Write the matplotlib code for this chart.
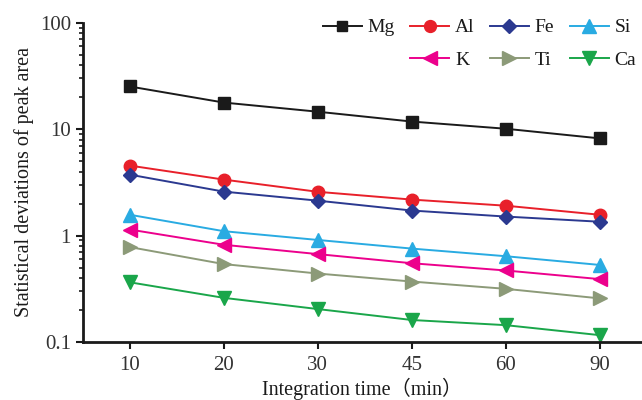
import matplotlib
matplotlib.use("Agg")
import matplotlib.pyplot as plt
from matplotlib.lines import Line2D
from matplotlib.ticker import LogLocator, NullFormatter

plt.rcParams['font.family'] = ['Liberation Serif', 'Noto Sans CJK SC']

times = ['10', '20', '30', '45', '60', '90']
Mg = [25.2, 17.8, 14.6, 11.8, 10.1, 8.2]
Al = [4.55, 3.36, 2.58, 2.18, 1.91, 1.57]
Fe = [3.74, 2.59, 2.13, 1.72, 1.51, 1.35]
Si = [1.57, 1.10, 0.91, 0.755, 0.64, 0.53]
K = [1.14, 0.82, 0.67, 0.55, 0.47, 0.39]
Ti = [0.78, 0.54, 0.44, 0.37, 0.316, 0.257]
Ca = [0.364, 0.26, 0.204, 0.161, 0.144, 0.116]

series = [
    ('Mg', Mg, '#1a1a1a', 's', 8),
    ('Al', Al, '#e8202a', 'o', 9),
    ('Fe', Fe, '#2b3990', 'D', 7),
    ('Si', Si, '#29abe2', '^', 10),
    ('K', K, '#ec008c', '<', 10),
    ('Ti', Ti, '#8c9a78', '>', 10),
    ('Ca', Ca, '#1aa64a', 'v', 10),
]

fig = plt.figure(figsize=(6.42, 4.0), dpi=100)
ax = fig.add_axes([0.129, 0.145, 0.871, 0.798])

x = list(range(len(times)))
handles = {}
for name, vals, col, mk, ms in series:
    h, = ax.plot(x, vals, color=col, marker=mk, markersize=ms, lw=1.4,
                 markeredgecolor=col, label=name, clip_on=False)
    handles[name] = h

ax.set_yscale('log')
ax.set_ylim(0.1, 100)
ax.set_xlim(-0.5, 5.45)
ax.set_xticks(x)
ax.set_xticklabels(times)
ax.set_yticks([0.1, 1, 10, 100])
ax.set_yticklabels(['0.1', '1', '10', '100'])
ax.yaxis.set_minor_locator(LogLocator(base=10, subs=range(2, 10)))
ax.yaxis.set_minor_formatter(NullFormatter())

for s in ['top', 'right']:
    ax.spines[s].set_visible(False)
for s in ['left', 'bottom']:
    ax.spines[s].set_linewidth(2)
    ax.spines[s].set_color('#1a1a1a')

ax.tick_params(axis='both', which='major', direction='out', length=5, width=1.5,
               labelsize=15, labelcolor='#333333', color='#1a1a1a')
ax.tick_params(axis='y', which='minor', direction='out', length=3, width=1.2, color='#1a1a1a')
ax.tick_params(axis='x', pad=5)

ax.set_xlabel('Integration time（min）', fontsize=14.5, color='#1a1a1a', labelpad=2)
ax.set_ylabel('Statistical deviations of peak area', fontsize=14.5, color='#1a1a1a', labelpad=4)

blank = Line2D([], [], linestyle='none', marker=None)
order = [handles['Mg'], blank, handles['Al'], handles['K'],
         handles['Fe'], handles['Ti'], handles['Si'], handles['Ca']]
labels = ['Mg', '', 'Al', 'K', 'Fe', 'Ti', 'Si', 'Ca']
leg = fig.legend(order, labels, ncol=4, loc='upper right', bbox_to_anchor=(1.0, 1 - 13 / 400),
                 frameon=False, fontsize=14, handlelength=2.0, columnspacing=0.8,
                 handletextpad=0.3, labelspacing=0.75, borderaxespad=0, borderpad=0.3,
                 markerscale=0.95)
for t in leg.get_texts():
    t.set_color('#1a1a1a')

fig.savefig('out.png', dpi=100)
